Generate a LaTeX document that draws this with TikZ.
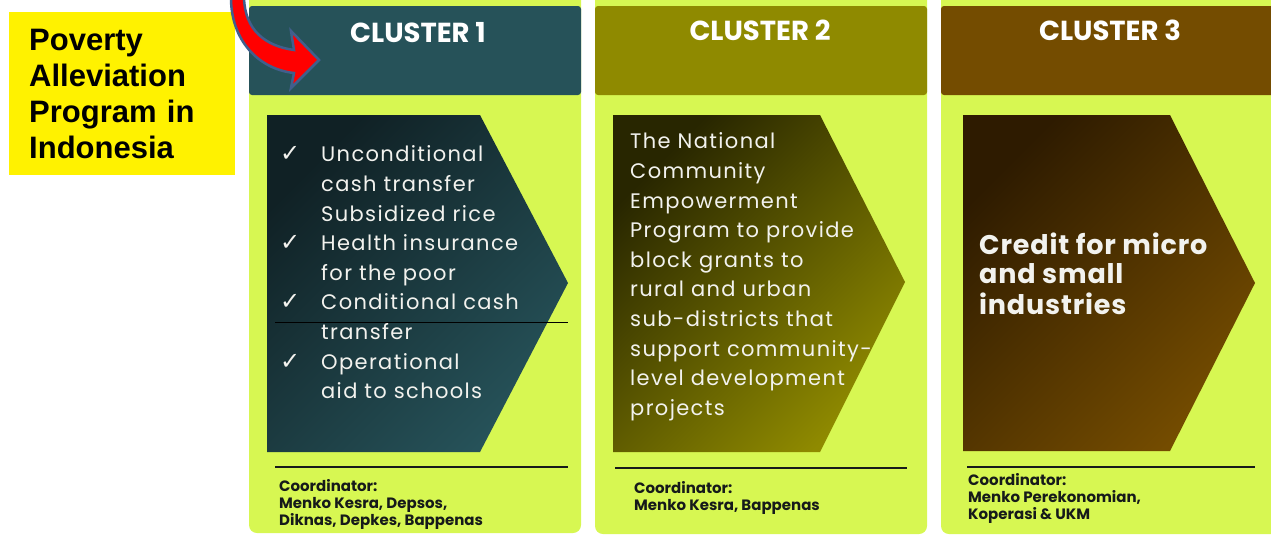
\documentclass[tikz,border=0pt]{standalone}
\usepackage{fontspec}
\setmainfont{Poppins}
\newfontfamily\gothicfont[LetterSpace=6.5]{Poppins}
\newfontfamily\creditfont[LetterSpace=3]{Poppins}
\newfontfamily\boxfont{Liberation Sans}
\newfontfamily\tickfont{DejaVu Sans}
\usetikzlibrary{positioning}

\definecolor{lime}{RGB}{215,247,82}
\definecolor{tealhead}{RGB}{38,82,89}
\definecolor{tealdark}{RGB}{16,33,37}
\definecolor{olivehead}{RGB}{143,138,0}
\definecolor{olivedark}{RGB}{40,38,0}
\definecolor{brownhead}{RGB}{116,76,0}
\definecolor{browndark}{RGB}{46,27,0}
\definecolor{arrowblue}{RGB}{65,95,140}
\definecolor{ink}{RGB}{22,26,26}
\definecolor{paper}{RGB}{242,242,238}

\tikzstyle{panel} = [fill=lime, rounded corners=8pt]
\tikzstyle{header} = [rounded corners=3pt]
\tikzstyle{cluster} = [text=white, font=\bfseries\fontsize{27.5}{30}\selectfont]
\tikzstyle{program} = [text=paper, anchor=north west, inner sep=0pt, font=\gothicfont\fontsize{21}{29.6}\selectfont]
\tikzstyle{credit} = [text=paper, anchor=north west, inner sep=0pt, font=\creditfont\bfseries\fontsize{27}{29}\selectfont]
\tikzstyle{coordinator} = [text=ink, anchor=north west, inner sep=0pt, font=\bfseries\fontsize{15}{16.8}\selectfont]
\tikzstyle{sepline} = [draw=ink, line width=2pt]
\newcommand{\tick}{{\tickfont\fontsize{24}{24}\selectfont ✓}}

\begin{document}
\begin{tikzpicture}[x=1pt, y=-1pt]
\useasboundingbox (0,0) rectangle (1271,536);
\clip (0,0) rectangle (1271,536);

\fill[panel] (249,-10) rectangle (581,533);
\fill[panel] (595,-10) rectangle (927,534);
\fill[panel] (941,-10) rectangle (1290,534);

\fill[header, tealhead] (249,6) rectangle (581,95);
\fill[header, olivehead] (595,6) rectangle (927,95);
\fill[header, brownhead] (941,6) rectangle (1290,95);

\node (c1name) [cluster] at (418,33) {CLUSTER 1};
\node (c2name) [cluster] at (760,30) {CLUSTER 2};
\node (c3name) [cluster] at (1110,30) {CLUSTER 3};

\shade[top color=tealdark, bottom color=tealhead, shading angle=45]
  (267,115) -- (480,115) -- (568,283) -- (480,452) -- (267,452) -- cycle;
\shade[top color=olivedark, bottom color=olivehead, shading angle=45]
  (613,115) -- (820,115) -- (905,282) -- (820,452) -- (613,452) -- cycle;
\shade[top color=browndark, bottom color=brownhead, shading angle=45]
  (963,115) -- (1170,115) -- (1255,283) -- (1170,451) -- (963,451) -- cycle;

\node (c1items) [program] at (280,141) {
\begin{tabular}{@{}p{41pt}@{}l@{}}
  \tick & Unconditional\\
   & cash transfer\\
   & Subsidized rice\\
  \tick & Health insurance\\
   & for the poor\\
  \tick & Conditional cash\\
   & transfer\\
  \tick & Operational\\
   & aid to schools
\end{tabular}};
\draw[black, line width=1pt] (275,322) -- (568,322);

\node (c2items) [program] at (630,128) {
\begin{tabular}{@{}l@{}}
  The National\\
  Community\\
  Empowerment\\
  Program to provide\\
  block grants to\\
  rural and urban\\
  sub-districts that\\
  support community-\\
  level development\\
  projects
\end{tabular}};

\node (c3items) [credit] at (979,233) {
\begin{tabular}{@{}l@{}}
  Credit for micro\\
  and small\\
  industries
\end{tabular}};

\draw[sepline] (275,467) -- (568,467);
\draw[sepline] (615,468) -- (907,468);
\draw[sepline] (967,467) -- (1255,467);

\node (c1coord) [coordinator] at (279,479) {
\begin{tabular}{@{}l@{}}
  Coordinator:\\
  Menko Kesra, Depsos,\\
  Diknas, Depkes, Bappenas
\end{tabular}};
\node (c2coord) [coordinator] at (634,481) {
\begin{tabular}{@{}l@{}}
  Coordinator:\\
  Menko Kesra, Bappenas
\end{tabular}};
\node (c3coord) [coordinator] at (968,473) {
\begin{tabular}{@{}l@{}}
  Coordinator:\\
  Menko Perekonomian,\\
  Koperasi \& UKM
\end{tabular}};

\node (poverty) [anchor=north west, fill=yellow, minimum width=226pt, minimum height=163pt,
  inner sep=0pt, text width=186pt, align=left, font=\boxfont\bfseries\fontsize{31}{36}\selectfont]
  at (9,12) {Poverty\\Alleviation\\Program in\\Indonesia};

\draw[fill=red, draw=arrowblue, line width=2.5pt]
  (244,-2) .. controls (245,30) and (265,46) .. (294,50) -- (291,31) -- (319,60)
  -- (291,88) -- (294,73) .. controls (258,69) and (231,40) .. (231,-2) -- cycle;
\end{tikzpicture}
\end{document}
